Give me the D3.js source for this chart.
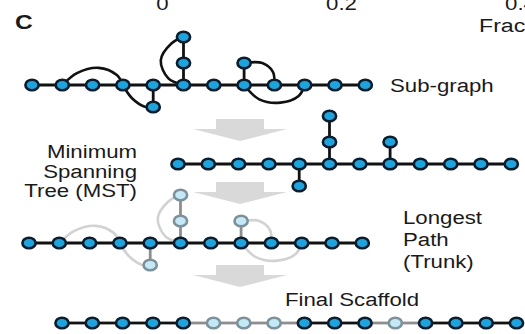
<!DOCTYPE html>
<html>
<head>
<meta charset="utf-8">
<script src="https://cdn.jsdelivr.net/npm/d3@7/dist/d3.min.js"></script>
<style>
  body { margin: 0; background: #fff; }
  svg { display: block; }
  text { font-family: "Liberation Sans", Arial, sans-serif; fill: #1a1a1a; }
</style>
</head>
<body>
<div class="chart"></div>
<script>
// ---- data ----
var axisTicks = [0, 0.2, 0.4];
var axisLabel = "Fraction";
var panelLetter = "C";

// trunk columns of the sub-graph (12 nodes)
var trunkCols = [0, 1, 2, 3, 4, 5, 6, 7, 8, 9, 10, 11];
// side nodes: [column, level] (level < 0 is above the trunk)
var branchNodes = [[4, 1], [5, -1], [5, -2], [7, -1]];
var branchEdges = [
  [[4, 0], [4, 1]],
  [[5, 0], [5, -1]],
  [[5, -1], [5, -2]],
  [[7, 0], [7, -1]]
];
// extra (non tree) edges, given as way-points in [column, level]
var extraEdges = [
  [[1, 0], [1.5, -0.55], [2.2, -0.78], [2.8, -0.45], [3, 0]],
  [[3, 0], [3.3, 0.6], [3.75, 1], [4, 1]],
  [[5, -2], [4.6, -1.75], [4.25, -1.1], [4.5, -0.3], [5, 0]],
  [[7, -1], [7.6, -1], [7.95, -0.6], [8, 0]],
  [[7, 0], [7.5, 0.65], [8.2, 0.8], [8.8, 0.5], [9, 0]]
];
// final scaffold: "t" = trunk node, "a" = node added back from branches
var scaffoldKinds = ["t", "t", "t", "t", "t", "a", "a", "a", "t", "t", "t", "a", "t", "t", "t", "t"];

var labelSub = ["Sub-graph"];
var labelMst = ["Minimum", "Spanning", "Tree (MST)"];
var labelPath = ["Longest", "Path", "(Trunk)"];
var labelFinal = ["Final Scaffold"];

// ---- setup ----
var widthSVG = 525;
var heightSVG = 334;
var stretch = 1.17; // the figure is a bit wider than tall

var svg = d3.select(".chart")
  .append("svg")
  .attr("width", widthSVG)
  .attr("height", heightSVG);

var colors = {
  node: "#1ea3dc", nodeStroke: "#0b1c2c",
  light: "#c4e8f6", lightStroke: "#7c9199",
  edge: "#111", greyEdge: "#8e8e8e", faint: "#d2d2d2",
  arrow: "#d9d9d9"
};

// rows of the figure
var rows = {
  sub:   { x0: 32,  y: 85 },
  mst:   { x0: 178, y: 164 },
  path:  { x0: 29,  y: 243 },
  final: { x0: 62,  y: 323 }
};

var colScale = d3.scaleLinear().domain([0, 1]).range([0, 30.3]);
var levelScale = d3.scaleLinear().domain([-2, -1, 0, 1]).range([-48, -22, 0, 22]);

// top axis remnant (cut off by the page top, as in the figure)
var axisScale = d3.scaleLinear().domain([0, 0.4]).range([162, 520]);
var axisG = svg.append("g")
  .attr("transform", "translate(0, -7)")
  .call(d3.axisBottom(axisScale).tickValues(axisTicks).tickSize(0).tickFormat(d3.format("")));
axisG.select(".domain").remove();
axisG.selectAll("text")
  .attr("y", 0)
  .attr("dy", "0.9em")
  .attr("font-size", 19)
  .attr("fill", "#1a1a1a")
  .attr("font-family", "Liberation Sans, Arial, sans-serif")
  .attr("transform", `scale(${stretch},1)`);

svg.append("text")
  .attr("transform", `translate(479, 32) scale(1.22,1)`)
  .attr("font-size", 19)
  .text(axisLabel);

svg.append("text")
  .attr("transform", `translate(15, 29) scale(${stretch},1)`)
  .attr("font-size", 21)
  .attr("font-weight", "bold")
  .text(panelLetter);

// grey arrows between the steps
var arrowTops = [119, 182, 265];
svg.selectAll(".arrow")
  .data(arrowTops)
  .enter()
  .append("path")
  .attr("class", "arrow")
  .attr("fill", colors.arrow)
  .attr("d", function (t) {
    var cx = 240;
    return `M${cx - 24},${t} L${cx + 24},${t} L${cx + 24},${t + 10} L${cx + 47},${t + 10}
            L${cx},${t + 22} L${cx - 47},${t + 10} L${cx - 24},${t + 10} Z`;
  });

// helpers
function px(row, p) { return row.x0 + colScale(p[0]); }
function py(row, p) { return row.y + levelScale(p[1]); }

var curve = d3.line().curve(d3.curveCatmullRom.alpha(0.5));

function drawGraph(row, opt) {
  var g = svg.append("g");
  var trunkPts = trunkCols.map(c => [c, 0]);

  if (opt.curves) {
    g.selectAll(".extra")
      .data(extraEdges)
      .enter()
      .append("path")
      .attr("fill", "none")
      .attr("stroke", opt.curveColor)
      .attr("stroke-width", 2.6)
      .attr("d", d => curve(d.map(p => [px(row, p), py(row, p)])));
  }

  g.selectAll(".branch")
    .data(branchEdges)
    .enter()
    .append("line")
    .attr("x1", d => px(row, d[0]))
    .attr("y1", d => py(row, d[0]))
    .attr("x2", d => px(row, d[1]))
    .attr("y2", d => py(row, d[1]))
    .attr("stroke", opt.branchEdge)
    .attr("stroke-width", 2.8);

  g.append("line")
    .attr("x1", px(row, trunkPts[0]))
    .attr("x2", px(row, trunkPts[trunkPts.length - 1]))
    .attr("y1", row.y)
    .attr("y2", row.y)
    .attr("stroke", colors.edge)
    .attr("stroke-width", 2.8);

  var nodes = trunkPts.map(p => ({ p: p, side: false }))
    .concat(branchNodes.map(p => ({ p: p, side: true })));

  g.selectAll("ellipse")
    .data(nodes)
    .enter()
    .append("ellipse")
    .attr("cx", d => px(row, d.p))
    .attr("cy", d => py(row, d.p))
    .attr("rx", 6.6)
    .attr("ry", 5.3)
    .attr("fill", d => d.side && opt.fadeSide ? colors.light : colors.node)
    .attr("stroke", d => d.side && opt.fadeSide ? colors.lightStroke : colors.nodeStroke)
    .attr("stroke-width", 2.6);
}

drawGraph(rows.sub, { curves: true, curveColor: colors.edge, branchEdge: colors.edge, fadeSide: false });
drawGraph(rows.mst, { curves: false, branchEdge: colors.edge, fadeSide: false });
drawGraph(rows.path, { curves: true, curveColor: colors.faint, branchEdge: colors.greyEdge, fadeSide: true });

// final scaffold
var fin = svg.append("g");
var finPairs = d3.pairs(scaffoldKinds.map((k, i) => ({ k: k, i: i })));
fin.selectAll("line")
  .data(finPairs)
  .enter()
  .append("line")
  .attr("x1", d => px(rows.final, [d[0].i, 0]))
  .attr("x2", d => px(rows.final, [d[1].i, 0]))
  .attr("y1", rows.final.y)
  .attr("y2", rows.final.y)
  .attr("stroke", d => (d[0].k === "a" || d[1].k === "a") ? colors.greyEdge : colors.edge)
  .attr("stroke-width", 2.8);

fin.selectAll("ellipse")
  .data(scaffoldKinds)
  .enter()
  .append("ellipse")
  .attr("cx", (d, i) => px(rows.final, [i, 0]))
  .attr("cy", rows.final.y)
  .attr("rx", 6.6)
  .attr("ry", 5.3)
  .attr("fill", d => d === "a" ? colors.light : colors.node)
  .attr("stroke", d => d === "a" ? colors.lightStroke : colors.nodeStroke)
  .attr("stroke-width", 2.6);

// step labels
function addLabel(lines, x, y0, step, anchor) {
  svg.selectAll(null)
    .data(lines)
    .enter()
    .append("text")
    .attr("transform", (d, i) => `translate(${x}, ${y0 + i * step}) scale(${stretch},1)`)
    .attr("text-anchor", anchor)
    .attr("font-size", 19)
    .text(d => d);
}

addLabel(labelSub, 390, 92, 0, "start");
addLabel(labelMst, 137, 158, 19.5, "end");
addLabel(labelPath, 403, 224, 22, "start");
addLabel(labelFinal, 285, 306, 0, "start");
</script>
</body>
</html>
